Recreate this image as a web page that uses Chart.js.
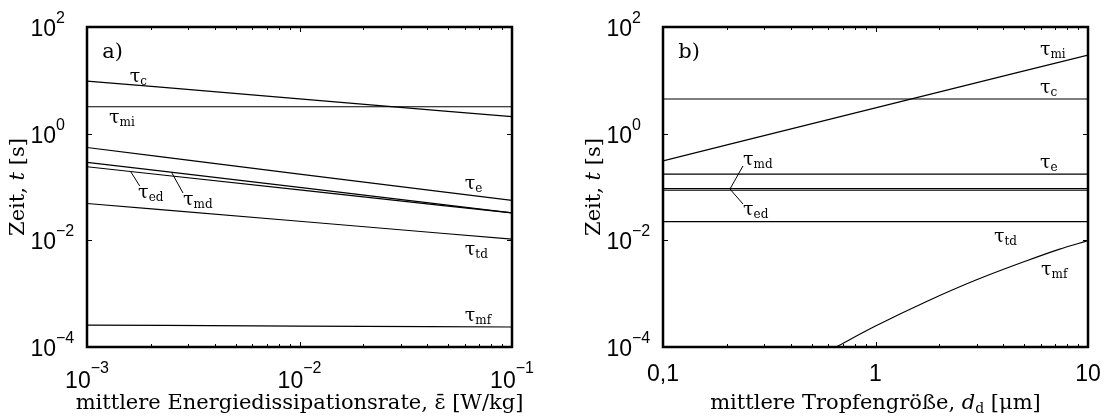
<!DOCTYPE html>
<html>
<head>
<meta charset="utf-8">
<script src="https://cdn.jsdelivr.net/npm/chart.js@4/dist/chart.umd.min.js"></script>
<style>
  body { margin: 0; background: #fff; }
  canvas { position: absolute; top: 0; }
  #chartA { left: 0; }
  #chartB { left: 553px; }
</style>
</head>
<body>
<canvas id="chartA" width="553" height="417"></canvas>
<canvas id="chartB" width="553" height="417"></canvas>
<script>
// panel a) time scales over mean energy dissipation rate
const epsA = [1e-3, 1e-2, 1e-1];
const tauC_A = [9.7, 4.5, 2.08];
const tauMi_A = [3.2, 3.2, 3.2];
const tauE_A = [0.55, 0.175, 0.056];
const tauMd_A = [0.29, 0.098, 0.0326];
const tauEd_A = [0.24, 0.088, 0.0326];
const tauTd_A = [0.049, 0.0228, 0.0105];
const tauMf_A = [2.58e-4, 2.47e-4, 2.37e-4];

// panel b) time scales over mean droplet size
const dB = [0.1, 1, 10];
const tauMi_B = [0.31, 3.05, 29.8];
const tauC_B = [4.47, 4.47, 4.47];
const tauE_B = [0.175, 0.175, 0.175];
const tauMd_B = [0.093, 0.093, 0.093];
const tauEd_B = [0.087, 0.087, 0.087];
const tauTd_B = [0.0224, 0.0224, 0.0224];
const dMf = [0.652, 1, 1.73, 2.97, 5.1, 7.3, 10];
const tauMf_B = [1.0e-4, 2.47e-4, 7.06e-4, 1.8e-3, 4.09e-3, 6.78e-3, 9.86e-3];

// ticks
const xTicksA = [1e-3, 1e-2, 1e-1];
const xTicksB = [0.1, 1, 10];
const xTickLabelsB = ['0,1', '1', '10'];
const yTicks = [1e2, 1e0, 1e-2, 1e-4];

// curve labels: [subscript, x, y] in data units
const labelsA = [['c', 1.59e-3, 9.3], ['mi', 1.27e-3, 1.58], ['e', 0.060, 0.0917],
  ['ed', 1.74e-3, 0.0622], ['md', 2.83e-3, 0.0459], ['td', 0.060, 5.3e-3], ['mf', 0.060, 3.07e-4]];
const labelsB = [['mi', 5.94, 29.8], ['c', 5.94, 5.79], ['e', 5.94, 0.227],
  ['md', 0.238, 0.2585], ['ed', 0.238, 0.0299], ['td', 3.61, 9.33e-3], ['mf', 6.01, 2.24e-3]];
const leadersA = [[1.61e-3, 0.191, 1.77e-3, 0.1045], [2.51e-3, 0.183, 2.83e-3, 0.0772]];
const leadersB = [[0.2066, 0.0917, 0.2379, 0.2477], [0.2066, 0.0917, 0.2379, 0.048]];

const SERIF = '"DejaVu Serif", serif';
const SANS = '"Liberation Sans", Arial, sans-serif';
const TITLE = '21px ' + SERIF;

function line(xs, ys) {
  return {
    data: xs.map((x, i) => ({ x: x, y: ys[i] })),
    borderColor: '#000',
    borderWidth: 1.2,
    pointRadius: 0,
    showLine: true,
    fill: false,
    cubicInterpolationMode: 'monotone'
  };
}

function rich(ctx, parts, x, y, align) {
  let w = 0;
  parts.forEach(p => { ctx.font = p[1]; w += ctx.measureText(p[0]).width; });
  let cx = align === 'center' ? x - w / 2 : (align === 'right' ? x - w : x);
  parts.forEach(p => {
    ctx.font = p[1];
    ctx.fillText(p[0], cx, y + (p[2] || 0));
    cx += ctx.measureText(p[0]).width;
  });
}

function sup(v) {
  return String(Math.round(Math.log10(v))).replace('-', '\u2212');
}

// frame, ticks, tick labels, titles and curve labels
const panelPlugin = {
  id: 'panel',
  afterDatasetsDraw(chart, args, o) {
    const ctx = chart.ctx;
    const a = chart.chartArea;
    const xs = chart.scales.x, ys = chart.scales.y;
    ctx.save();
    ctx.strokeStyle = '#000';
    ctx.fillStyle = '#000';
    ctx.textBaseline = 'alphabetic';

    // x ticks, major and minor, inward on top and bottom
    ctx.lineWidth = 1;
    const lo = Math.floor(Math.log10(xs.min)), hi = Math.ceil(Math.log10(xs.max));
    for (let d = lo; d < hi; d++) {
      for (let m = 1; m < 10; m++) {
        const v = m * Math.pow(10, d);
        if (v < xs.min * 0.999 || v > xs.max * 1.001) continue;
        const px = Math.round(xs.getPixelForValue(v)) + 0.5;
        const len = m === 1 ? 5 : 3;
        ctx.beginPath();
        ctx.moveTo(px, a.bottom); ctx.lineTo(px, a.bottom - len);
        ctx.moveTo(px, a.top); ctx.lineTo(px, a.top + len);
        ctx.stroke();
      }
    }
    // y major ticks
    yTicks.forEach(v => {
      const py = Math.round(ys.getPixelForValue(v)) + 0.5;
      ctx.beginPath();
      ctx.moveTo(a.left, py); ctx.lineTo(a.left + 5, py);
      ctx.moveTo(a.right, py); ctx.lineTo(a.right - 5, py);
      ctx.stroke();
    });

    // frame
    ctx.lineWidth = 2.5;
    ctx.strokeRect(a.left, a.top, a.right - a.left, a.bottom - a.top);

    // y tick labels
    yTicks.forEach(v => {
      const py = ys.getPixelForValue(v);
      ctx.font = '23px ' + SANS;
      ctx.textAlign = 'right';
      ctx.fillText('10', a.left - 31, py + 9);
      ctx.textAlign = 'left';
      ctx.font = '16px ' + SANS;
      ctx.fillText(sup(v), a.left - 31, py - 4);
    });

    // x tick labels
    ctx.textAlign = 'left';
    o.xTicks.forEach((v, i) => {
      const px = xs.getPixelForValue(v);
      if (o.xLabels) {
        rich(ctx, [[o.xLabels[i], '23px ' + SANS]], px, a.bottom + 34, 'center');
      } else {
        rich(ctx, [['10', '23px ' + SANS, 0], [sup(v), '16px ' + SANS, -15]], px, a.bottom + 41, 'center');
      }
    });

    // x title
    const cxm = (a.left + a.right) / 2;
    rich(ctx, o.xTitle, cxm, a.bottom + 62, 'center');

    // y title
    ctx.save();
    ctx.translate(a.left - 63, (a.top + a.bottom) / 2);
    ctx.rotate(-Math.PI / 2);
    rich(ctx, [['Zeit, ', TITLE], ['t', 'italic ' + TITLE], [' [s]', TITLE]], 0, 0, 'center');
    ctx.restore();

    // panel letter
    ctx.font = TITLE;
    ctx.fillText(o.letter[0], xs.getPixelForValue(o.letter[1]), ys.getPixelForValue(o.letter[2]));

    // curve labels
    o.labels.forEach(l => {
      rich(ctx, [['\u03c4', '19px ' + SERIF, 0], [l[0], '12px ' + SERIF, 3]],
        xs.getPixelForValue(l[1]), ys.getPixelForValue(l[2]), 'left');
    });

    // leader lines
    ctx.lineWidth = 1;
    o.leaders.forEach(s => {
      ctx.beginPath();
      ctx.moveTo(xs.getPixelForValue(s[0]), ys.getPixelForValue(s[1]));
      ctx.lineTo(xs.getPixelForValue(s[2]), ys.getPixelForValue(s[3]));
      ctx.stroke();
    });
    ctx.restore();
  }
};

function makeChart(id, datasets, xMin, xMax, padding, panel) {
  return new Chart(document.getElementById(id), {
    type: 'scatter',
    data: { datasets: datasets },
    options: {
      responsive: false,
      animation: false,
      devicePixelRatio: 1,
      layout: { padding: padding },
      scales: {
        x: { type: 'logarithmic', min: xMin, max: xMax, display: false },
        y: { type: 'logarithmic', min: 1e-4, max: 1e2, display: false }
      },
      plugins: { legend: { display: false }, tooltip: { enabled: false }, panel: panel }
    },
    plugins: [panelPlugin]
  });
}

makeChart('chartA', [
  line(epsA, tauC_A), line(epsA, tauMi_A), line(epsA, tauE_A), line(epsA, tauMd_A),
  line(epsA, tauEd_A), line(epsA, tauTd_A), line(epsA, tauMf_A)
], 1e-3, 1e-1, { left: 87, top: 27, right: 41, bottom: 70 }, {
  xTicks: xTicksA,
  xLabels: null,
  xTitle: [['mittlere Energiedissipationsrate, \u03b5\u0304 [W/kg]', TITLE]],
  letter: ['a)', 1.18e-3, 26.2],
  labels: labelsA,
  leaders: leadersA
});

makeChart('chartB', [
  line(dB, tauMi_B), line(dB, tauC_B), line(dB, tauE_B), line(dB, tauMd_B),
  line(dB, tauEd_B), line(dB, tauTd_B), line(dMf, tauMf_B)
], 0.1, 10, { left: 110, top: 27, right: 18, bottom: 70 }, {
  xTicks: xTicksB,
  xLabels: xTickLabelsB,
  xTitle: [['mittlere Tropfengr\u00f6\u00dfe, ', TITLE], ['d', 'italic ' + TITLE],
    ['d', '14px ' + SERIF, 4], [' [\u03bcm]', TITLE]],
  letter: ['b)', 0.118, 26.2],
  labels: labelsB,
  leaders: leadersB
});
</script>
</body>
</html>
